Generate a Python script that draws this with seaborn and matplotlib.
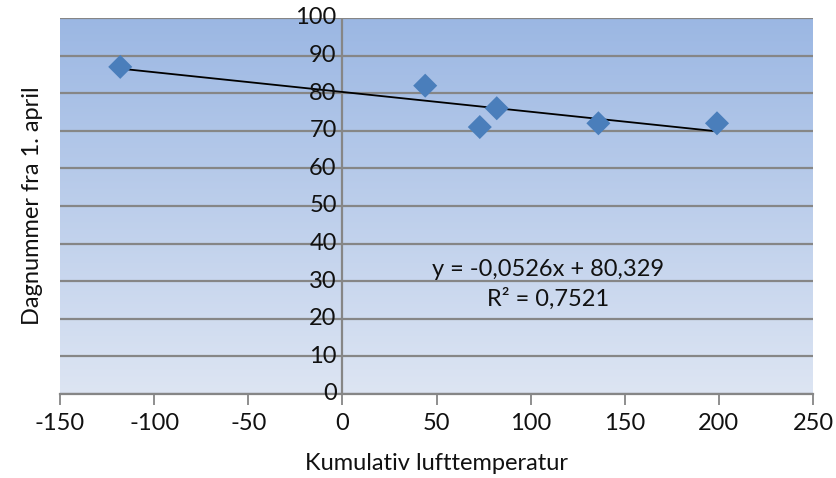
import numpy as np
import pandas as pd
import matplotlib
matplotlib.use("Agg")
import matplotlib.pyplot as plt
import seaborn as sns
from matplotlib.colors import LinearSegmentedColormap

# Data
temp = [-118, 44, 73, 82, 136, 199]
dag = [87, 82, 71, 76, 72, 72]
slope = -0.0526
intercept = 80.329
eq_text = "y = -0,0526x + 80,329"
r2_text = "R² = 0,7521"
x_ticks = [-150, -100, -50, 0, 50, 100, 150, 200, 250]
y_ticks = [0, 10, 20, 30, 40, 50, 60, 70, 80, 90, 100]
xlabel = "Kumulativ lufttemperatur"
ylabel = "Dagnummer fra 1. april"

sns.set_theme(style="white")
plt.rcParams['font.family'] = ['Lato', 'DejaVu Sans']

df = pd.DataFrame({"temp": temp, "dag": dag})
trend = pd.DataFrame({"temp": [min(temp), max(temp)]})
trend["dag"] = slope * trend["temp"] + intercept

FS = 17
TC = "#111111"

fig = plt.figure(figsize=(8.36, 4.78), dpi=100)
ax = fig.add_axes([60/836, (478-394)/478, (813-60)/836, 376/478])

# gradient background
cmap = LinearSegmentedColormap.from_list("bg", ["#DDE5F3", "#9BB7E3"])
grad = np.linspace(0, 1, 256).reshape(-1, 1)
ax.imshow(grad, extent=[-150, 250, 0, 100], origin="lower", cmap=cmap,
          aspect="auto", zorder=0)

for yv in y_ticks[1:]:
    ax.axhline(yv, color="#868686", lw=1.6, zorder=1)
ax.axvline(0, color="#868686", lw=1.6, zorder=1)
ax.axhline(0, color="#868686", lw=1.6, zorder=1)

sns.lineplot(data=trend, x="temp", y="dag", ax=ax, color="black", lw=1.3, zorder=3)
sns.scatterplot(data=df, x="temp", y="dag", ax=ax, marker="D", s=150,
                color="#4A7EBB", edgecolor="none", zorder=4)

ax.set_xlim(-150, 250)
ax.set_ylim(0, 100)
ax.set_xticks(x_ticks)
ax.set_xticklabels([str(v) for v in x_ticks], fontsize=FS, color=TC)
ax.set_yticks([])
for yv in y_ticks:
    ax.text(-3, yv, str(yv), ha="right", va="center", fontsize=FS, color=TC, zorder=5)

for s in ["top", "right", "left"]:
    ax.spines[s].set_visible(False)
ax.spines["bottom"].set_color("#868686")
ax.spines["bottom"].set_linewidth(1.6)
ax.tick_params(axis="x", direction="out", length=8, width=1.3, color="#868686", pad=6, bottom=True)

ax.set_xlabel(xlabel, fontsize=FS, labelpad=13, color=TC)
ax.set_ylabel(ylabel, fontsize=FS, labelpad=12, color=TC)

ax.text(109, 33, eq_text, ha="center", va="center", fontsize=FS, color=TC, zorder=5)
ax.text(109, 25.3, r2_text, ha="center", va="center", fontsize=FS, color=TC, zorder=5)

fig.savefig("out.png", dpi=100)
